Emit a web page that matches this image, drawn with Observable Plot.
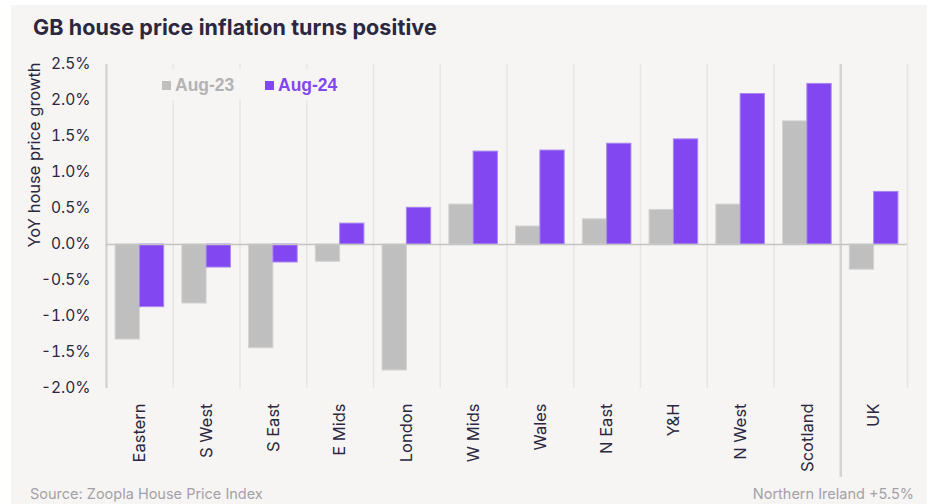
<!DOCTYPE html>
<html>
<head>
<meta charset="utf-8">
<script src="https://cdn.jsdelivr.net/npm/d3@7"></script>
<script src="https://cdn.jsdelivr.net/npm/@observablehq/plot@0.6"></script>
<style>
  html, body { margin: 0; padding: 0; background: #ffffff; }
  #wrap { position: relative; width: 930px; height: 504px; overflow: hidden; font-family: Inter, "Noto Sans", sans-serif; }
  #card { position: absolute; left: 11px; top: 5px; width: 916px; height: 510px; background: #f6f5f3; }
  #title { position: absolute; left: 33px; top: 13px; font-size: 21.5px; font-weight: 700; color: #2c2740; line-height: 28px; white-space: nowrap; letter-spacing: 0.1px; }
  #chart { position: absolute; left: 0; top: 0; }
  #ylab { position: absolute; left: 34px; top: 155px; transform: translate(-50%, -50%) rotate(-90deg); font-size: 16.5px; color: #2c2740; white-space: nowrap; }
  #legend { position: absolute; left: 148px; top: 69px; width: 212px; height: 31px; background: #f6f5f3; font-family: "Liberation Sans", Arial, sans-serif; font-weight: 700; font-size: 17.5px; }
  .li { position: absolute; top: 6px; line-height: 20px; white-space: nowrap; }
  .sw { display: inline-block; width: 9px; height: 9px; margin-right: 4px; vertical-align: 1px; }
  #src { position: absolute; left: 30px; top: 485px; font-size: 14.5px; color: #a3a1a6; white-space: nowrap; line-height: 18px; }
  #ni { position: absolute; right: 16px; top: 485px; font-size: 14.5px; color: #a3a1a6; white-space: nowrap; line-height: 18px; }
</style>
</head>
<body>
<div id="wrap">
  <div id="card"></div>
  <div id="chart"></div>
  <div id="title"></div>
  <div id="ylab"></div>
  <div id="legend"></div>
  <div id="src"></div>
  <div id="ni"></div>
</div>
<script>
const titleText = "GB house price inflation turns positive";
const yLabel = "YoY house price growth";
const sourceText = "Source: Zoopla House Price Index";
const noteText = "Northern Ireland +5.5%";

const categories = ["Eastern", "S West", "S East", "E Mids", "London", "W Mids", "Wales", "N East", "Y&H", "N West", "Scotland", "UK"];
const seriesNames = ["Aug-23", "Aug-24"];
const aug23 = [-1.32, -0.82, -1.44, -0.24, -1.75, 0.555, 0.25, 0.35, 0.48, 0.555, 1.71, -0.35];
const aug24 = [-0.87, -0.32, -0.25, 0.29, 0.51, 1.29, 1.305, 1.40, 1.46, 2.09, 2.23, 0.73];
const yTicks = [-2, -1.5, -1, -0.5, 0, 0.5, 1, 1.5, 2, 2.5];

const colors = ["#bfbfbf", "#8247f0"];
const strokes = ["#d3d3d3", "#a886f3"];
const ink = "#2c2740";

const W = 930, H = 504;
const mL = 106, mR = 23, mT = 64, mB = 116;
const step = (W - mL - mR) / categories.length;
const half = step / 2;
const barW = 24.3;
const gap = (step - 2 * barW) / 2;

document.getElementById("title").textContent = titleText;
document.getElementById("ylab").textContent = yLabel;
document.getElementById("src").textContent = sourceText;
document.getElementById("ni").textContent = noteText;

const legend = document.getElementById("legend");
seriesNames.forEach((name, i) => {
  const item = document.createElement("div");
  item.className = "li";
  item.style.left = (i === 0 ? 14 : 117) + "px";
  item.style.color = i === 0 ? "#b3b3b3" : colors[1];
  const sw = document.createElement("span");
  sw.className = "sw";
  sw.style.background = colors[i];
  item.appendChild(sw);
  item.appendChild(document.createTextNode(name));
  legend.appendChild(item);
});

const rows = categories.map((c, i) => ({cat: c, a: aug23[i], b: aug24[i]}));
const last = categories[categories.length - 1];

const chart = Plot.plot({
  width: W,
  height: H,
  marginLeft: mL,
  marginRight: mR,
  marginTop: mT,
  marginBottom: mB,
  style: {background: "transparent", fontFamily: "Inter, 'Noto Sans', sans-serif", color: ink},
  x: {domain: categories, padding: 0, round: false, label: null},
  y: {domain: [-2, 2.5], label: null},
  marks: [
    Plot.ruleX(categories, {x: d => d, dx: -half, stroke: "#e6e5e3", strokeWidth: 1.5}),
    Plot.ruleX([last], {x: d => d, dx: half, stroke: "#e6e5e3", strokeWidth: 1.5}),
    Plot.ruleX([categories[0]], {x: d => d, dx: -half, stroke: "#cfcfcf", strokeWidth: 2}),
    Plot.ruleX([last], {x: d => d, dx: -half, stroke: "#d4d4d4", strokeWidth: 2.5, insetBottom: -89}),
    Plot.barY(rows, {x: "cat", y: "a", fill: colors[0], stroke: strokes[0], strokeWidth: 1, insetLeft: gap, insetRight: half}),
    Plot.barY(rows, {x: "cat", y: "b", fill: colors[1], stroke: strokes[1], strokeWidth: 1, insetLeft: half, insetRight: gap}),
    Plot.ruleY([0], {stroke: "#c4c4c4", strokeWidth: 1.5}),
    Plot.axisY({ticks: yTicks, tickSize: 0, tickPadding: 16, fontSize: 15.5, fill: ink, tickFormat: d => d.toFixed(1) + "%", label: null}),
    Plot.axisX({tickSize: 0, tickPadding: 15, tickRotate: -90, fontSize: 16.5, fill: ink, label: null})
  ]
});
document.getElementById("chart").appendChild(chart);
</script>
</body>
</html>
